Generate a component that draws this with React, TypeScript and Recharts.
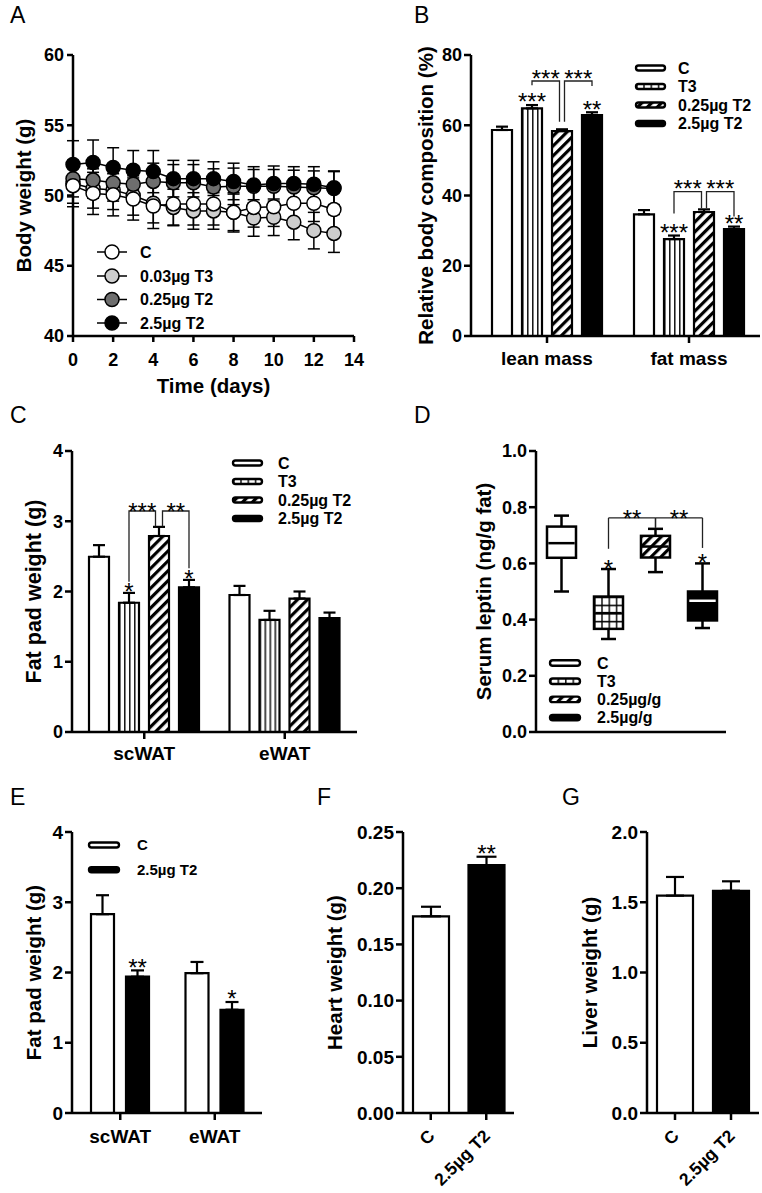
import React from 'react';
import {
  LineChart, Line, BarChart, Bar, XAxis, YAxis, ErrorBar, LabelList, Cell, ReferenceLine,
} from 'recharts';

const FONT = '"Liberation Sans", Arial, Helvetica, sans-serif';
const AX = { stroke: '#000', strokeWidth: 2.5 };
const BOLD = { fontFamily: FONT, fontWeight: 700, fill: '#000' };

// ---------------- Panel A data ----------------
const aDays = [0, 1, 2, 3, 4, 5, 6, 7, 8, 9, 10, 11, 12, 13];
const aC = [50.7, 50.15, 50.05, 49.75, 49.25, 49.4, 49.4, 49.4, 48.8, 49.15, 49.2, 49.45, 49.45, 49.0];
const aT3 = [50.85, 50.5, 50.4, 50.0, 49.45, 49.15, 48.9, 48.9, 48.8, 48.4, 48.45, 48.1, 47.5, 47.3];
const aT2L = [51.2, 51.1, 50.9, 50.8, 51.0, 50.9, 50.9, 50.6, 50.65, 50.65, 50.65, 50.6, 50.55, 50.5];
const aT2H = [52.2, 52.35, 52.0, 51.8, 51.7, 51.2, 51.2, 51.2, 51.0, 50.75, 50.85, 50.85, 50.8, 50.55];
const aErrC = [1.5, 1.5, 1.5, 1.5, 1.6, 1.5, 1.5, 1.5, 1.4, 1.4, 1.4, 1.4, 1.3, 1.4];
const aErrT3 = [1.4, 1.4, 1.4, 1.4, 1.4, 1.3, 1.3, 1.3, 1.3, 1.3, 1.3, 1.25, 1.3, 1.35];
const aErrT2L = [1.3, 1.3, 1.3, 1.3, 1.3, 1.3, 1.3, 1.3, 1.3, 1.2, 1.2, 1.2, 1.2, 1.2];
const aErrT2H = [1.7, 1.6, 1.4, 1.4, 1.5, 1.3, 1.3, 1.2, 1.3, 1.3, 1.25, 1.2, 1.25, 1.2];
const aTicksX = [0, 2, 4, 6, 8, 10, 12, 14];
const aTicksY = [40, 45, 50, 55, 60];
const aLegend = ['C', '0.03µg T3', '0.25µg T2', '2.5µg T2'];

// ---------------- Panel B data ----------------
const bCats = ['lean mass', 'fat mass'];
const bC = [58.65, 34.65];
const bT3 = [64.8, 27.6];
const bT2L = [58.35, 35.3];
const bT2H = [62.9, 30.4];
const bErrC = [0.95, 1.2];
const bErrT3 = [0.95, 1.0];
const bErrT2L = [0.5, 0.75];
const bErrT2H = [0.8, 0.75];
const bStarC = ['', ''];
const bStarT3 = ['***', '***'];
const bStarT2L = ['', ''];
const bStarT2H = ['**', '**'];
const bTicksY = [0, 20, 40, 60, 80];
const bLegend = ['C', 'T3', '0.25µg T2', '2.5µg T2'];

type Bracket = { cat: number; from: number; to: number; level: number; dropFrom: number; dropTo: number; label: string };
const bBrackets: Bracket[] = [
  { cat: 0, from: 1, to: 2, level: 72.6, dropFrom: 71.4, dropTo: 61.0, label: '***' },
  { cat: 0, from: 2, to: 3, level: 72.6, dropFrom: 61.0, dropTo: 71.2, label: '***' },
  { cat: 1, from: 1, to: 2, level: 41.1, dropFrom: 34.9, dropTo: 36.35, label: '***' },
  { cat: 1, from: 2, to: 3, level: 41.1, dropFrom: 36.35, dropTo: 34.0, label: '***' },
];

// ---------------- Panel C data ----------------
const cCats = ['scWAT', 'eWAT'];
const cC = [2.495, 1.95];
const cT3 = [1.84, 1.595];
const cT2L = [2.79, 1.9];
const cT2H = [2.06, 1.62];
const cErrC = [0.165, 0.13];
const cErrT3 = [0.14, 0.13];
const cErrT2L = [0.13, 0.1];
const cErrT2H = [0.105, 0.08];
const cStarC = ['', ''];
const cStarT3 = ['*', ''];
const cStarT2L = ['', ''];
const cStarT2H = ['*', ''];
const cTicksY = [0, 1, 2, 3, 4];
const cLegend = ['C', 'T3', '0.25µg T2', '2.5µg T2'];
const cBrackets: Bracket[] = [
  { cat: 0, from: 1, to: 2, level: 3.146, dropFrom: 2.14, dropTo: 2.93, label: '***' },
  { cat: 0, from: 2, to: 3, level: 3.146, dropFrom: 2.93, dropTo: 2.33, label: '**' },
];

// ---------------- Panel D data ----------------
const dCats = ['C', 'T3', '0.25µg/g', '2.5µg/g'];
const dMin = [0.50, 0.331, 0.569, 0.37];
const dQ1 = [0.62, 0.367, 0.621, 0.397];
const dMed = [0.672, 0.423, 0.66, 0.467];
const dQ3 = [0.731, 0.482, 0.698, 0.50];
const dMax = [0.77, 0.58, 0.723, 0.60];
const dStars = ['', '*', '', '*'];
const dTicksY = [0, 0.2, 0.4, 0.6, 0.8, 1.0];
const dLegend = ['C', 'T3', '0.25µg/g', '2.5µg/g'];
const dBrackets = [
  { from: 'T3', to: '0.25µg/g', level: 0.762, dropFrom: 0.652, dropTo: 0.727, label: '**' },
  { from: '0.25µg/g', to: '2.5µg/g', level: 0.762, dropFrom: 0.727, dropTo: 0.655, label: '**' },
];

// ---------------- Panel E data ----------------
const eCats = ['scWAT', 'eWAT'];
const eC = [2.83, 1.99];
const eT2 = [1.94, 1.47];
const eErrC = [0.27, 0.16];
const eErrT2 = [0.09, 0.11];
const eStarC = ['', ''];
const eStarT2 = ['**', '*'];
const eTicksY = [0, 1, 2, 3, 4];
const eLegend = ['C', '2.5µg T2'];

// ---------------- Panel F / G data ----------------
const fgCats = ['C', '2.5µg T2'];
const fVals = [0.175, 0.2205];
const fErrs = [0.0085, 0.0075];
const fStars = ['', '**'];
const fTicksY = [0, 0.05, 0.1, 0.15, 0.2, 0.25];
const gVals = [1.547, 1.582];
const gErrs = [0.133, 0.067];
const gStars = ['', ''];
const gTicksY = [0, 0.5, 1.0, 1.5, 2.0];

// ---------------- styles ----------------
const A_FILLS = ['#ffffff', '#cdcdcd', '#6e6e6e', '#000000'];
const GROUP_FILLS = ['#ffffff', 'url(#pVert)', 'url(#pDiag)', '#000000'];
const BOX_FILLS = ['#ffffff', 'url(#pGrid)', 'url(#pDiag)', '#000000'];
const STAR_SIZE = 24;

function yTitle(text: string, cx: number, cy: number, size: number) {
  return () => (
    <text x={cx} y={cy} transform={`rotate(-90 ${cx} ${cy})`} textAnchor="middle" dominantBaseline="central"
      fontSize={size} {...BOLD}>{text}</text>
  );
}
function xTitle(text: string, cx: number, cy: number, size: number) {
  return () => (
    <text x={cx} y={cy} textAnchor="middle" dominantBaseline="central" fontSize={size} {...BOLD}>{text}</text>
  );
}

type AnnoCfg = {
  cats: string[]; vals: number[]; errs: number[]; stars: string[]; idx: number; pitch: number;
  brackets: Bracket[]; mid: number; gap: number; starLift: number; brLift: number;
};
function makeAnno(cfg: AnnoCfg) {
  return (props: any) => {
    const i = cfg.cats.indexOf(props.value);
    if (i < 0) return null;
    const vb = props.viewBox && props.viewBox.width !== undefined ? props.viewBox : props;
    const x = Number(vb.x), y = Number(vb.y), w = Number(vb.width), h = Number(vb.height);
    const v = cfg.vals[i];
    const base = y + h;
    const ppu = h / v;
    const py = (val: number) => base - val * ppu;
    const cx = x + w / 2;
    const out: any[] = [];
    if (cfg.stars[i]) {
      out.push(
        <text key="s" x={cx} y={py(v + cfg.errs[i]) + cfg.starLift} textAnchor="middle" fontSize={STAR_SIZE}
          fontFamily={FONT} fill="#000">{cfg.stars[i]}</text>
      );
    }
    cfg.brackets.filter((b) => b.cat === i).forEach((b, k) => {
      const x1 = cx + (b.from - cfg.idx) * cfg.pitch + (b.from === cfg.mid ? cfg.gap : 0);
      const x2 = cx + (b.to - cfg.idx) * cfg.pitch - (b.to === cfg.mid ? cfg.gap : 0);
      const yl = py(b.level);
      out.push(
        <path key={'b' + k} d={`M${x1},${py(b.dropFrom)}V${yl}H${x2}V${py(b.dropTo)}`} fill="none" stroke="#222" strokeWidth={1.3} />
      );
      out.push(
        <text key={'t' + k} x={(x1 + x2) / 2} y={yl + cfg.brLift} textAnchor="middle" fontSize={STAR_SIZE}
          fontFamily={FONT} fill="#000">{b.label}</text>
      );
    });
    return <g>{out}</g>;
  };
}

// ---------------- Panel A ----------------
function PanelA() {
  const rows = aDays.map((d, i) => ({
    day: d, c: aC[i], cE: aErrC[i], t3: aT3[i], t3E: aErrT3[i],
    t2l: aT2L[i], t2lE: aErrT2L[i], t2h: aT2H[i], t2hE: aErrT2H[i],
  }));
  const order = [
    { k: 't3', fill: A_FILLS[1] },
    { k: 't2l', fill: A_FILLS[2] },
    { k: 't2h', fill: A_FILLS[3] },
    { k: 'c', fill: A_FILLS[0] },
  ];
  return (
    <LineChart width={380} height={400} data={rows} margin={{ top: 55, right: 26, bottom: 4, left: 0 }}>
      <XAxis dataKey="day" type="number" domain={[0, 14]} ticks={aTicksX} height={60} stroke="#000"
        axisLine={AX} tickLine={AX} tickSize={6} tickMargin={11} tick={{ ...BOLD, fontSize: 18 }}
        label={xTitle('Time (days)', 213.5, 385, 20.5)} />
      <YAxis type="number" domain={[40, 60]} ticks={aTicksY} width={73} stroke="#000" axisLine={AX}
        tickLine={AX} tickSize={6} tickMargin={3} tick={{ ...BOLD, fontSize: 18 }}
        label={yTitle('Body weight (g)', 23, 195.5, 20.5)} />
      <XAxis xAxisId="top" dataKey="day" type="number" domain={[0, 14]} orientation="top" mirror height={0}
        tick={false} tickLine={false} axisLine={AX} />
      <YAxis yAxisId="right" orientation="right" mirror width={0} domain={[40, 60]} tick={false}
        tickLine={false} axisLine={AX} />
      {order.map((o) => (
        <Line key={o.k} dataKey={o.k} stroke="#000" strokeWidth={1.5} isAnimationActive={false}
          dot={{ r: 7, fill: o.fill, stroke: '#000', strokeWidth: 1.5 }} activeDot={false}>
          <ErrorBar dataKey={o.k + 'E'} width={6} stroke="#000" strokeWidth={1.5} direction="y" />
        </Line>
      ))}
    </LineChart>
  );
}

// ---------------- Grouped bar panels ----------------
type SeriesCfg = { key: string; vals: number[]; errs: number[]; stars: string[]; fill: string };
type GroupedProps = {
  w: number; h: number; mt: number; mr: number; yW: number; xH: number;
  cats: string[]; series: SeriesCfg[]; domain: [number, number]; yTicks: number[];
  title: string; titleX: number; titleSize: number; tickFont: number;
  padL: number; padR: number; barSize: number; barGap: number; cap: number; catMargin: number;
  brackets: Bracket[]; mid: number; gap: number; starLift: number; brLift: number;
};
function Grouped(p: GroupedProps) {
  const rows = p.cats.map((c, i) => {
    const r: any = { cat: c };
    p.series.forEach((s) => { r[s.key] = s.vals[i]; r[s.key + '_e'] = [0, s.errs[i]]; });
    return r;
  });
  const plotH = p.h - p.mt - 4 - p.xH;
  return (
    <BarChart width={p.w} height={p.h} data={rows} margin={{ top: p.mt, right: p.mr, bottom: 4, left: 0 }}
      barGap={p.barGap} barSize={p.barSize}>
      <XAxis dataKey="cat" type="category" padding={{ left: p.padL, right: p.padR }} height={p.xH} stroke="#000"
        axisLine={AX} tickLine={AX} tickSize={7} tickMargin={p.catMargin} tick={{ ...BOLD, fontSize: 19 }} interval={0} />
      <YAxis type="number" domain={p.domain} ticks={p.yTicks} width={p.yW} stroke="#000" axisLine={AX}
        tickLine={AX} tickSize={7} tickMargin={2} tick={{ ...BOLD, fontSize: p.tickFont }}
        label={yTitle(p.title, p.titleX, p.mt + plotH / 2, p.titleSize)} />
      <XAxis xAxisId="top" dataKey="cat" orientation="top" mirror height={0} tick={false} tickLine={false} axisLine={AX} />
      <YAxis yAxisId="right" orientation="right" mirror width={0} domain={p.domain} tick={false} tickLine={false} axisLine={AX} />
      {p.series.map((s, j) => (
        <Bar key={s.key} dataKey={s.key} fill={s.fill} stroke="#000" strokeWidth={2.2} isAnimationActive={false}>
          <ErrorBar dataKey={s.key + '_e'} width={p.cap} stroke="#000" strokeWidth={2.2} direction="y" />
          <LabelList dataKey="cat" content={makeAnno({
            cats: p.cats, vals: s.vals, errs: s.errs, stars: s.stars, idx: j, pitch: p.barSize + p.barGap,
            brackets: j === p.mid ? p.brackets : [], mid: p.mid, gap: p.gap, starLift: p.starLift, brLift: p.brLift,
          })} />
        </Bar>
      ))}
    </BarChart>
  );
}

function PanelB() {
  const series: SeriesCfg[] = [
    { key: 'c', vals: bC, errs: bErrC, stars: bStarC, fill: GROUP_FILLS[0] },
    { key: 't3', vals: bT3, errs: bErrT3, stars: bStarT3, fill: GROUP_FILLS[1] },
    { key: 't2l', vals: bT2L, errs: bErrT2L, stars: bStarT2L, fill: GROUP_FILLS[2] },
    { key: 't2h', vals: bT2H, errs: bErrT2H, stars: bStarT2H, fill: GROUP_FILLS[3] },
  ];
  return (
    <Grouped w={382} h={400} mt={55} mr={2} yW={91} xH={60} cats={bCats} series={series} domain={[0, 80]}
      yTicks={bTicksY} title="Relative body composition (%)" titleX={45} titleSize={20.5} tickFont={18}
      padL={5} padR={0} barSize={20} barGap={10} cap={6} catMargin={9} brackets={bBrackets} mid={2} gap={2.5}
      starLift={5.3} brLift={5.8} />
  );
}

function PanelC() {
  const series: SeriesCfg[] = [
    { key: 'c', vals: cC, errs: cErrC, stars: cStarC, fill: GROUP_FILLS[0] },
    { key: 't3', vals: cT3, errs: cErrT3, stars: cStarT3, fill: GROUP_FILLS[1] },
    { key: 't2l', vals: cT2L, errs: cErrT2L, stars: cStarT2L, fill: GROUP_FILLS[2] },
    { key: 't2h', vals: cT2H, errs: cErrT2H, stars: cStarT2H, fill: GROUP_FILLS[3] },
  ];
  return (
    <Grouped w={380} h={400} mt={51} mr={23} yW={72} xH={64} cats={cCats} series={series} domain={[0, 4]}
      yTicks={cTicksY} title="Fat pad weight (g)" titleX={34} titleSize={21.5} tickFont={18}
      padL={2} padR={2} barSize={20} barGap={10} cap={6} catMargin={8} brackets={cBrackets} mid={2} gap={3.5}
      starLift={6.6} brLift={8.8} />
  );
}

function PanelE() {
  const series: SeriesCfg[] = [
    { key: 'c', vals: eC, errs: eErrC, stars: eStarC, fill: GROUP_FILLS[0] },
    { key: 't2h', vals: eT2, errs: eErrT2, stars: eStarT2, fill: GROUP_FILLS[3] },
  ];
  return (
    <Grouped w={280} h={393} mt={32} mr={18} yW={72} xH={76} cats={eCats} series={series} domain={[0, 4]}
      yTicks={eTicksY} title="Fat pad weight (g)" titleX={33} titleSize={20.5} tickFont={19}
      padL={1} padR={0} barSize={23} barGap={12} cap={6.5} catMargin={10} brackets={[]} mid={-1} gap={0}
      starLift={5.2} brLift={0} />
  );
}

// ---------------- Panel D (box plot) ----------------
function BoxShape(props: any) {
  const { x, y, width, height } = props;
  let i = dCats.indexOf(props.payload && props.payload.cat);
  if (i < 0) i = props.index;
  const ppu = height / (dQ3[i] - dQ1[i]);
  const yQ3 = y;
  const yQ1 = y + height;
  const yMax = yQ3 - (dMax[i] - dQ3[i]) * ppu;
  const yMin = yQ1 + (dQ1[i] - dMin[i]) * ppu;
  const yMed = yQ3 + (dQ3[i] - dMed[i]) * ppu;
  const cx = x + width / 2;
  return (
    <g>
      <line x1={cx} x2={cx} y1={yMax} y2={yMin} stroke="#000" strokeWidth={2.5} />
      <line x1={cx - 7.5} x2={cx + 7.5} y1={yMax} y2={yMax} stroke="#000" strokeWidth={2.5} />
      <line x1={cx - 7.5} x2={cx + 7.5} y1={yMin} y2={yMin} stroke="#000" strokeWidth={2.5} />
      <rect x={x} y={yQ3} width={width} height={height} fill={BOX_FILLS[i]} stroke="#000" strokeWidth={2.5} />
      <line x1={x + 1.3} x2={x + width - 1.3} y1={yMed} y2={yMed} stroke={i === 3 ? '#fff' : '#000'} strokeWidth={2.5} />
      {dStars[i] ? (
        <text x={cx} y={yMax + 7.5} textAnchor="middle" fontSize={STAR_SIZE} fontFamily={FONT} fill="#000">{dStars[i]}</text>
      ) : null}
    </g>
  );
}

function PanelD() {
  const rows = dCats.map((c, i) => ({ cat: c, q1: dQ1[i], iqr: dQ3[i] - dQ1[i] }));
  const plotH = 400 - 51 - 4 - 64;
  const lines: any[] = [];
  dBrackets.forEach((b, k) => {
    lines.push(<ReferenceLine key={'l' + k} segment={[{ x: b.from, y: b.dropFrom }, { x: b.from, y: b.level }]} stroke="#222" strokeWidth={1.3} />);
    lines.push(<ReferenceLine key={'r' + k} segment={[{ x: b.to, y: b.level }, { x: b.to, y: b.dropTo }]} stroke="#222" strokeWidth={1.3} />);
    lines.push(
      <ReferenceLine key={'h' + k} segment={[{ x: b.from, y: b.level }, { x: b.to, y: b.level }]} stroke="#222" strokeWidth={1.3}
        label={(lp: any) => {
          const vb = lp.viewBox || {};
          const cx = Number(vb.x) + Number(vb.width || 0) / 2;
          const cy = Number(vb.y);
          return <text x={cx} y={cy + 8.8} textAnchor="middle" fontSize={STAR_SIZE} fontFamily={FONT} fill="#000">{b.label}</text>;
        }} />
    );
  });
  return (
    <BarChart width={382} height={400} data={rows} margin={{ top: 51, right: 36, bottom: 4, left: 0 }} barSize={29}>
      <XAxis dataKey="cat" type="category" padding={{ left: 2, right: 0 }} height={64} stroke="#000" axisLine={AX}
        tickLine={false} tick={false} />
      <YAxis type="number" domain={[0, 1]} ticks={dTicksY} width={156} stroke="#000" axisLine={AX} tickLine={AX}
        tickSize={7} tickMargin={2} tick={{ ...BOLD, fontSize: 18 }} tickFormatter={(v: number) => v.toFixed(1)}
        label={yTitle('Serum leptin (ng/g fat)', 103, 51 + plotH / 2, 20.5)} />
      <XAxis xAxisId="top" dataKey="cat" orientation="top" mirror height={0} tick={false} tickLine={false} axisLine={AX} />
      <YAxis yAxisId="right" orientation="right" mirror width={0} domain={[0, 1]} tick={false} tickLine={false} axisLine={AX} />
      <Bar dataKey="q1" stackId="box" fill="transparent" stroke="none" isAnimationActive={false} />
      <Bar dataKey="iqr" stackId="box" shape={BoxShape} isAnimationActive={false} />
      {lines}
    </BarChart>
  );
}

// ---------------- Panels F, G ----------------
function RotTick(props: any) {
  const { x, y, payload } = props;
  const ax = Number(x) + 5;
  const ay = Number(y) + 15;
  return (
    <text x={ax} y={ay} transform={`rotate(-45 ${ax} ${ay})`} textAnchor="end" fontSize={17.5} {...BOLD}>{payload.value}</text>
  );
}

function Single(p: {
  w: number; mr: number; yW: number; vals: number[]; errs: number[]; stars: string[];
  domain: [number, number]; ticks: number[]; digits: number; title: string; titleX: number; cap: number;
}) {
  const rows = fgCats.map((c, i) => ({ cat: c, v: p.vals[i], e: [0, p.errs[i]] }));
  const fills = [GROUP_FILLS[0], GROUP_FILLS[3]];
  const plotH = 393 - 32 - 4 - 76;
  return (
    <BarChart width={p.w} height={393} data={rows} margin={{ top: 32, right: p.mr, bottom: 4, left: 0 }} barSize={36}>
      <XAxis dataKey="cat" type="category" height={76} stroke="#000" axisLine={AX} tickLine={AX} tickSize={7}
        tickMargin={2} tick={RotTick} interval={0} />
      <YAxis type="number" domain={p.domain} ticks={p.ticks} width={p.yW} stroke="#000" axisLine={AX} tickLine={AX}
        tickSize={7} tickMargin={2} tick={{ ...BOLD, fontSize: 19 }} tickFormatter={(v: number) => v.toFixed(p.digits)}
        label={yTitle(p.title, p.titleX, 32 + plotH / 2, 20.5)} />
      <XAxis xAxisId="top" dataKey="cat" orientation="top" mirror height={0} tick={false} tickLine={false} axisLine={AX} />
      <YAxis yAxisId="right" orientation="right" mirror width={0} domain={p.domain} tick={false} tickLine={false} axisLine={AX} />
      <Bar dataKey="v" stroke="#000" strokeWidth={2.2} isAnimationActive={false}>
        {rows.map((r, i) => <Cell key={r.cat} fill={fills[i]} />)}
        <ErrorBar dataKey="e" width={p.cap} stroke="#000" strokeWidth={2.2} direction="y" />
        <LabelList dataKey="cat" content={makeAnno({
          cats: fgCats, vals: p.vals, errs: p.errs, stars: p.stars, idx: 0, pitch: 0,
          brackets: [], mid: -1, gap: 0, starLift: 5.4, brLift: 0,
        })} />
      </Bar>
    </BarChart>
  );
}

// ---------------- Overlay: patterns, legends, panel letters ----------------
function Swatch({ x, y, w, h, fill }: { x: number; y: number; w: number; h: number; fill: string }) {
  return <rect x={x} y={y - h / 2} width={w} height={h} rx={h / 2} fill={fill} stroke="#000" strokeWidth={2.4} />;
}

function BoxLegend({ x, tx, rows, labels, fills, w, h, size }: { x: number; tx: number; rows: number[]; labels: string[]; fills: string[]; w: number; h: number; size: number }) {
  return (
    <g>
      {labels.map((l, i) => (
        <g key={l + i}>
          <Swatch x={x} y={rows[i]} w={w} h={h} fill={fills[i]} />
          <text x={tx} y={rows[i] + size * 0.36} fontSize={size} {...BOLD}>{l}</text>
        </g>
      ))}
    </g>
  );
}

function Overlay() {
  const aRows = [252, 276, 299.5, 323];
  const letter = { fontFamily: FONT, fontSize: 23, fill: '#000' };
  return (
    <svg width={762} height={1193} style={{ position: 'absolute', left: 0, top: 0, pointerEvents: 'none' }}>
      <defs>
        <pattern id="pVert" patternUnits="objectBoundingBox" x="0" y="0" width="0.25" height="1">
          <rect x="0" y="0" width="200" height="2000" fill="#fff" />
          <line x1="0.8" y1="0" x2="0.8" y2="2000" stroke="#000" strokeWidth="1.4" />
        </pattern>
        <pattern id="pGrid" patternUnits="objectBoundingBox" x="0" y="0" width="0.25" height="0.25">
          <rect x="0" y="0" width="200" height="200" fill="#fff" />
          <line x1="0.8" y1="0" x2="0.8" y2="200" stroke="#000" strokeWidth="1.4" />
          <line x1="0" y1="0.8" x2="200" y2="0.8" stroke="#000" strokeWidth="1.4" />
        </pattern>
        <pattern id="pDiag" patternUnits="userSpaceOnUse" width="7" height="7" patternTransform="rotate(45)">
          <rect width="7" height="7" fill="#fff" />
          <rect width="3.2" height="7" fill="#000" />
        </pattern>
      </defs>

      {/* panel letters */}
      <text x={10} y={23} {...letter}>A</text>
      <text x={414} y={23} {...letter}>B</text>
      <text x={10} y={423} {...letter}>C</text>
      <text x={414} y={423} {...letter}>D</text>
      <text x={10} y={805} {...letter}>E</text>
      <text x={317} y={805} {...letter}>F</text>
      <text x={562} y={805} {...letter}>G</text>

      {/* legend A */}
      {aLegend.map((l, i) => (
        <g key={l}>
          <line x1={97} x2={127} y1={aRows[i]} y2={aRows[i]} stroke="#000" strokeWidth={1.5} />
          <circle cx={112} cy={aRows[i]} r={7} fill={A_FILLS[i]} stroke="#000" strokeWidth={1.5} />
          <text x={140} y={aRows[i] + 5.8} fontSize={16} {...BOLD}>{l}</text>
        </g>
      ))}

      <BoxLegend x={636} tx={678} rows={[68, 86.5, 105, 123.5]} labels={bLegend} fills={GROUP_FILLS} w={29} h={5} size={16} />
      <BoxLegend x={233} tx={278} rows={[463, 481.5, 500, 518.5]} labels={cLegend} fills={GROUP_FILLS} w={29} h={5} size={16} />
      <BoxLegend x={550} tx={597} rows={[663, 681.2, 699.4, 717.6]} labels={dLegend} fills={GROUP_FILLS} w={30} h={5.5} size={16} />
      <BoxLegend x={89} tx={137} rows={[845, 869.7]} labels={eLegend} fills={[GROUP_FILLS[0], GROUP_FILLS[3]]} w={30} h={5} size={15} />
    </svg>
  );
}

export default function App() {
  return (
    <div style={{ position: 'absolute', left: 0, top: 0, width: 762, height: 1193, background: '#fff', fontFamily: FONT }}>
      <div style={{ position: 'absolute', left: 0, top: 0 }}><PanelA /></div>
      <div style={{ position: 'absolute', left: 380, top: 0 }}><PanelB /></div>
      <div style={{ position: 'absolute', left: 0, top: 400 }}><PanelC /></div>
      <div style={{ position: 'absolute', left: 380, top: 400 }}><PanelD /></div>
      <div style={{ position: 'absolute', left: 0, top: 800 }}><PanelE /></div>
      <div style={{ position: 'absolute', left: 260, top: 800 }}>
        <Single w={260} mr={6} yW={143} vals={fVals} errs={fErrs} stars={fStars} domain={[0, 0.25]} ticks={fTicksY}
          digits={2} title="Heart weight (g)" titleX={74.5} cap={10} />
      </div>
      <div style={{ position: 'absolute', left: 510, top: 800 }}>
        <Single w={252} mr={3} yW={137} vals={gVals} errs={gErrs} stars={gStars} domain={[0, 2]} ticks={gTicksY}
          digits={1} title="Liver weight (g)" titleX={79} cap={9} />
      </div>
      <Overlay />
    </div>
  );
}
